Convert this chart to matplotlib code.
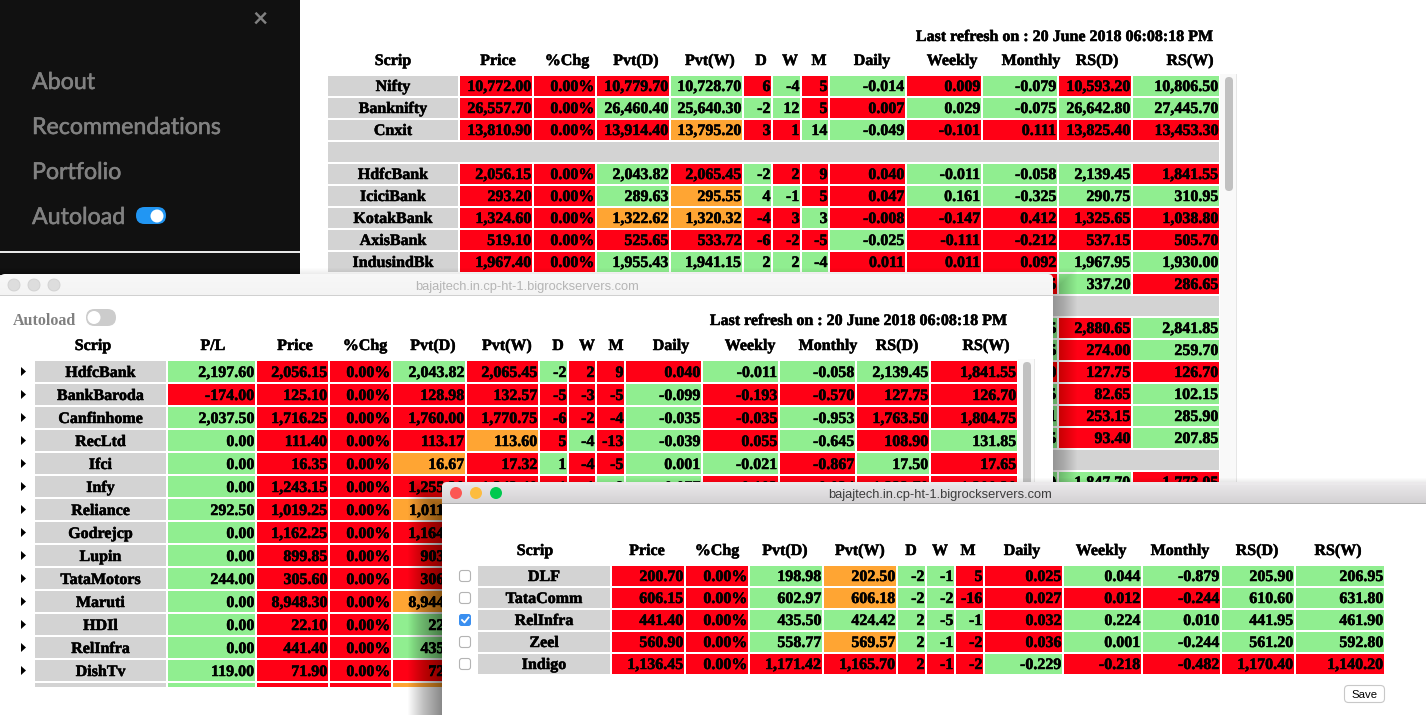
import matplotlib as mpl
mpl.use('agg')
import matplotlib.pyplot as plt
import matplotlib.patheffects as pe
from matplotlib.patches import Rectangle, FancyBboxPatch, Circle, Polygon

plt.rcParams['font.family'] = ['Liberation Serif', 'DejaVu Sans']

##--##--  data of the three tables  --##--##
headers_a = ['Scrip', 'Price', '%Chg', 'Pvt(D)', 'Pvt(W)', 'D', 'W', 'M', 'Daily', 'Weekly', 'Monthly', 'RS(D)', 'RS(W)']
headers_b = ['Scrip', 'P/L', 'Price', '%Chg', 'Pvt(D)', 'Pvt(W)', 'D', 'W', 'M', 'Daily', 'Weekly', 'Monthly', 'RS(D)', 'RS(W)']
refresh_text = 'Last refresh on : 20 June 2018 06:08:18 PM'
menu_items = ['About', 'Recommendations', 'Portfolio', 'Autoload']
site_title = 'bajajtech.in.cp-ht-1.bigrockservers.com'

back_rows = [
    ['Nifty', '10,772.00', '0.00%', '10,779.70', '10,728.70', '6', '-4', '5', '-0.014', '0.009', '-0.079', '10,593.20', '10,806.50'],
    ['Banknifty', '26,557.70', '0.00%', '26,460.40', '25,640.30', '-2', '12', '5', '0.007', '0.029', '-0.075', '26,642.80', '27,445.70'],
    ['Cnxit', '13,810.90', '0.00%', '13,914.40', '13,795.20', '3', '1', '14', '-0.049', '-0.101', '0.111', '13,825.40', '13,453.30'],
    None,
    ['HdfcBank', '2,056.15', '0.00%', '2,043.82', '2,065.45', '-2', '2', '9', '0.040', '-0.011', '-0.058', '2,139.45', '1,841.55'],
    ['IciciBank', '293.20', '0.00%', '289.63', '295.55', '4', '-1', '5', '0.047', '0.161', '-0.325', '290.75', '310.95'],
    ['KotakBank', '1,324.60', '0.00%', '1,322.62', '1,320.32', '-4', '3', '3', '-0.008', '-0.147', '0.412', '1,325.65', '1,038.80'],
    ['AxisBank', '519.10', '0.00%', '525.65', '533.72', '-6', '-2', '-5', '-0.025', '-0.111', '-0.212', '537.15', '505.70'],
    ['IndusindBk', '1,967.40', '0.00%', '1,955.43', '1,941.15', '2', '2', '-4', '0.011', '0.011', '0.092', '1,967.95', '1,930.00'],
]
back_colors = ['LRRRGRGRGRGRG', 'LRRGGGGRRGGGG', 'LRRRORRGGRRRR', None,
               'LRRGRGRRRGGGR', 'LRRGOGGRRGGGG', 'LRROORRGRRRRR', 'LRRRRRRRGRRRR', 'LRRGGGGGRRRGG']

# only these three columns of the lower rows show beside the second window
back_lower_rows = [
    ['-0.215', '337.20', '286.65'],
    None,
    ['-0.385', '2,880.65', '2,841.85'],
    ['-0.325', '274.00', '259.70'],
    ['-0.570', '127.75', '126.70'],
    ['-0.415', '82.65', '102.15'],
    ['-0.231', '253.15', '285.90'],
    ['-0.555', '93.40', '207.85'],
    None,
    ['-0.110', '1,847.70', '1,773.05'],
]
back_lower_colors = ['RGR', None, 'GRG', 'GRG', 'RRR', 'GRG', 'GRG', 'GRG', None, 'GGR']

mid_rows = [
    ['HdfcBank', '2,197.60', '2,056.15', '0.00%', '2,043.82', '2,065.45', '-2', '2', '9', '0.040', '-0.011', '-0.058', '2,139.45', '1,841.55'],
    ['BankBaroda', '-174.00', '125.10', '0.00%', '128.98', '132.57', '-5', '-3', '-5', '-0.099', '-0.193', '-0.570', '127.75', '126.70'],
    ['Canfinhome', '2,037.50', '1,716.25', '0.00%', '1,760.00', '1,770.75', '-6', '-2', '-4', '-0.035', '-0.035', '-0.953', '1,763.50', '1,804.75'],
    ['RecLtd', '0.00', '111.40', '0.00%', '113.17', '113.60', '5', '-4', '-13', '-0.039', '0.055', '-0.645', '108.90', '131.85'],
    ['Ifci', '0.00', '16.35', '0.00%', '16.67', '17.32', '1', '-4', '-5', '0.001', '-0.021', '-0.867', '17.50', '17.65'],
    ['Infy', '0.00', '1,243.15', '0.00%', '1,255.30', '1,242.40', '-1', '-1', '8', '0.077', '-0.103', '-0.024', '1,233.70', '1,200.30'],
    ['Reliance', '292.50', '1,019.25', '0.00%', '1,011.30'],
    ['Godrejcp', '0.00', '1,162.25', '0.00%', '1,164.20'],
    ['Lupin', '0.00', '899.85', '0.00%', '903.45'],
    ['TataMotors', '244.00', '305.60', '0.00%', '306.15'],
    ['Maruti', '0.00', '8,948.30', '0.00%', '8,944.50'],
    ['HDIl', '0.00', '22.10', '0.00%', '22.55'],
    ['RelInfra', '0.00', '441.40', '0.00%', '435.50'],
    ['DishTv', '119.00', '71.90', '0.00%', '72.20'],
    ['', '', '', '', ''],
]
mid_colors = ['LGRRGRGRRRGGGR', 'LRRRRRRRRGRRRR', 'LGRRRRRRRGRGRR', 'LGRRRORGRGRGRG', 'LGRRORGRRGGRGR',
              'LGRRRRRRGGRRRR', 'LGRRO', 'LGRRR', 'LGRRR', 'LGRRR', 'LGRRO', 'LGRRG', 'LGRRG', 'LGRRR', 'LGRRO']

front_rows = [
    ['DLF', '200.70', '0.00%', '198.98', '202.50', '-2', '-1', '5', '0.025', '0.044', '-0.879', '205.90', '206.95'],
    ['TataComm', '606.15', '0.00%', '602.97', '606.18', '-2', '-2', '-16', '0.027', '0.012', '-0.244', '610.60', '631.80'],
    ['RelInfra', '441.40', '0.00%', '435.50', '424.42', '2', '-5', '-1', '0.032', '0.224', '0.010', '441.95', '461.90'],
    ['Zeel', '560.90', '0.00%', '558.77', '569.57', '2', '-1', '-2', '0.036', '0.001', '-0.244', '561.20', '592.80'],
    ['Indigo', '1,136.45', '0.00%', '1,171.42', '1,165.70', '2', '-1', '-2', '-0.229', '-0.218', '-0.482', '1,170.40', '1,140.20'],
]
front_colors = ['LRRGOGGRRGGGG', 'LRRGOGGRRRRGG', 'LRRGGGGGRGGGG', 'LRRGOGGRRGGGG', 'LRRRRRRRGRRRR']
front_checked = [False, False, True, False, False]

##--##--  colours and layout  --##--##
cell_fill = {'R': '#ff0015', 'G': '#90ee90', 'O': '#ffa533', 'L': '#d3d3d3'}

back_edges = [(328, 458), (460, 532), (534, 595), (597, 669), (671, 742), (744, 771), (773, 800), (802, 828),
              (830, 905), (907, 981), (983, 1057), (1059, 1131), (1133, 1219)]
mid_edges = [(35, 166), (168, 255), (257, 328), (330, 391), (393, 465), (467, 538), (540, 567), (569, 595), (597, 624),
             (626, 701), (703, 778), (780, 855), (857, 929), (931, 1017)]
front_edges = [(478, 610), (612, 684), (686, 748), (750, 822), (824, 896), (898, 925), (927, 954), (956, 983),
               (985, 1062), (1064, 1141), (1143, 1220), (1222, 1294), (1296, 1384)]

back_head_x = [393, 498, 567, 636, 710, 761, 790, 819, 872, 952, 1031, 1097, 1190]
mid_head_x = [93, 213, 295, 365, 433, 507, 558, 587, 616, 671, 750, 828, 897, 986]
front_head_x = [535, 647, 717, 785, 860, 911, 940, 968, 1022, 1101, 1180, 1257, 1338]

TXT = 16 * 72 / 100.0   # 16 px text at dpi 100
heavy = [pe.withStroke(linewidth=0.35, foreground='black')]

fig = plt.figure(figsize=(14.26, 7.15), dpi=100)
ax = fig.add_axes([0, 0, 1, 1])
ax.set_xlim(0, 1426)
ax.set_ylim(715, 0)
ax.axis('off')


def rect(x0, y0, x1, y1, color, z, **kw):
    ax.add_patch(Rectangle((x0, y0), x1 - x0, y1 - y0, facecolor=color, edgecolor='none', linewidth=0, zorder=z, **kw))


def rounded(x0, y0, x1, y1, r, color, z, edge='none', lw=0):
    ax.add_patch(FancyBboxPatch((x0 + r, y0 + r), x1 - x0 - 2 * r, y1 - y0 - 2 * r,
                                boxstyle='round,pad=%g,rounding_size=%g' % (r, r),
                                facecolor=color, edgecolor=edge, linewidth=lw, zorder=z))


def bold(x, y, s, z, ha='center', color='black', size=TXT):
    t = ax.text(x, y, s, ha=ha, va='baseline', fontsize=size, fontweight='bold', color=color, zorder=z)
    if color == 'black':
        t.set_path_effects(heavy)


def draw_table(edges, rows, colors, tops, height, base, z):
    for top, row, fills in zip(tops, rows, colors):
        if row is None:
            continue
        for j, (val, fill) in enumerate(zip(row, fills)):
            x0, x1 = edges[j]
            rect(x0, top, x1, top + height, cell_fill[fill], z)
            if fill == 'L':
                bold((x0 + x1) / 2, top + base, val, z + 0.5)
            else:
                bold(x1 - 0.5, top + base, val, z + 0.5, ha='right')


def draw_header(xs, names, y, z):
    for x, name in zip(xs, names):
        bold(x, y, name, z)


def shadow(x0, y0, x1, y1, z, n=30, a=0.013, drop=10):
    for i in range(1, n + 1):
        ax.add_patch(Rectangle((x0 - i, y0 - i + drop), x1 - x0 + 2 * i, y1 - y0 + 2 * i,
                               facecolor='black', edgecolor='none', linewidth=0, alpha=a, zorder=z))


def titlebar(x0, y0, x1, y1, top, bottom, z):
    c0 = mpl.colors.to_rgb(top)
    c1 = mpl.colors.to_rgb(bottom)
    rounded(x0, y0, x1, y0 + 12, 5, top, z)
    h = int(y1 - y0)
    for i in range(3, h):
        t = i / float(h)
        rect(x0, y0 + i, x1, y0 + i + 1, tuple(a + (b - a) * t for a, b in zip(c0, c1)), z + 0.01)


##--##--  back window with side menu  --##--##
rect(0, 0, 300, 275, '#111111', 1)
rect(0, 251, 300, 252.5, '#e8e8e8', 1.5)
for name, y in zip(menu_items, [89, 134, 179, 224]):
    ax.text(32, y, name, fontsize=16.7, family='Lato', color='#818181', va='baseline', zorder=2,
            path_effects=[pe.withStroke(linewidth=0.4, foreground='#818181')])
ax.text(260, 19, '\u00d7', fontsize=19, family='Lato', fontweight='bold', color='#818181', ha='center', va='center', zorder=2)
rounded(136, 207, 166, 224, 8.5, '#2196f3', 2)
ax.add_patch(Circle((157, 216), 6.5, facecolor='white', edgecolor='none', zorder=3))

bold(1213, 41, refresh_text, 5, ha='right')
draw_header(back_head_x, headers_a, 65, 5)
rect(1220, 74, 1236, 490, '#f9f9f9', 4)
rect(1236, 74, 1237, 490, '#e6e6e6', 4)
rounded(1225, 77, 1233, 191, 4, '#c1c1c1', 4.5)
back_tops = [76 + 22 * i for i in range(len(back_rows))]
draw_table(back_edges, back_rows, back_colors, back_tops, 20, 15, 5)
rect(328, 142, 1219, 162, cell_fill['L'], 5)
lower_tops = [274 + 22 * i for i in range(len(back_lower_rows))]
draw_table(back_edges[10:], back_lower_rows, back_lower_colors, lower_tops, 20, 15, 5)
rect(328, 296, 1219, 316, cell_fill['L'], 5)
rect(328, 450, 1219, 470, cell_fill['L'], 5)

##--##--  middle window  --##--##
shadow(0, 274, 1053, 760, 9, n=24, a=0.012, drop=18)
rect(0, 290, 1053, 760, 'white', 10)
titlebar(0, 274, 1053, 295, '#f7f7f7', '#f3f3f3', 10.1)
rect(0, 294.5, 1053, 295.5, '#d0d0d0', 10.2)
for x in [14, 34, 54]:
    ax.add_patch(Circle((x, 285), 6, facecolor='#dddddd', edgecolor='#d0d0d0', linewidth=0.6, zorder=10.3))
ax.text(527.5, 290, site_title, fontsize=9.3, family='Liberation Sans', color='#b5b5b5', ha='center', va='baseline', zorder=10.3)

bold(13, 325, 'Autoload', 11, ha='left', color='#808080')
rounded(86, 309, 116, 326, 8.5, '#cccccc', 11)
ax.add_patch(Circle((94, 317.5), 6.5, facecolor='white', edgecolor='none', zorder=11.5))
bold(1007, 325, refresh_text, 11, ha='right')
draw_header(mid_head_x, headers_b, 350, 11)

mid_tops = [361 + 23 * i for i in range(len(mid_rows))]
draw_table(mid_edges, mid_rows, mid_colors, mid_tops, 21, 16, 11)
for top in mid_tops[:-1]:
    ax.add_patch(Polygon([(21, top + 6), (26, top + 10.5), (21, top + 15)], closed=True, facecolor='black', edgecolor='none', zorder=11))
rect(0, 687, 1053, 720, 'white', 12)
rect(1018, 359, 1034, 490, '#fafafa', 11)
rect(1034, 359, 1035, 490, '#e8e8e8', 11)
rounded(1023, 362, 1031, 490, 4, '#c1c1c1', 11.2)

##--##--  front window  --##--##
shadow(442, 482, 1470, 760, 19, n=34, a=0.016, drop=30)
rect(442, 495, 1470, 760, 'white', 20)
titlebar(442, 482, 1470, 503, '#ebe9eb', '#d2d0d2', 20.1)
rect(442, 503, 1470, 504, '#b0b0b0', 20.2)
for x, c in zip([456, 476, 496], ['#fc5753', '#fdbc40', '#00c94f']):
    ax.add_patch(Circle((x, 493), 6, facecolor=c, edgecolor='none', zorder=20.3))
ax.text(940.5, 498, site_title, fontsize=9.3, family='Liberation Sans', color='#3c3c3c', ha='center', va='baseline', zorder=20.3)

draw_header(front_head_x, headers_a, 555, 21)
front_tops = [566 + 22 * i for i in range(len(front_rows))]
draw_table(front_edges, front_rows, front_colors, front_tops, 20, 15, 21)
for top, checked in zip(front_tops, front_checked):
    if checked:
        rounded(459, top + 4, 471, top + 16, 2.5, '#3a8ff0', 21)
        ax.plot([462, 464.5, 468.5], [top + 10, top + 12.5, top + 7.5], color='white', linewidth=1.3, zorder=21.5)
    else:
        rounded(459.5, top + 4.5, 470.5, top + 15.5, 2.5, 'white', 21, edge='#b4b4b4', lw=0.8)
rounded(1344.5, 685.5, 1384.5, 702.5, 4, 'white', 21, edge='#c8c8c8', lw=0.8)
ax.text(1364.5, 698, 'Save', fontsize=8.2, family='Liberation Sans', color='black', ha='center', va='baseline', zorder=21.5)

fig.savefig('out.png', dpi=100)
